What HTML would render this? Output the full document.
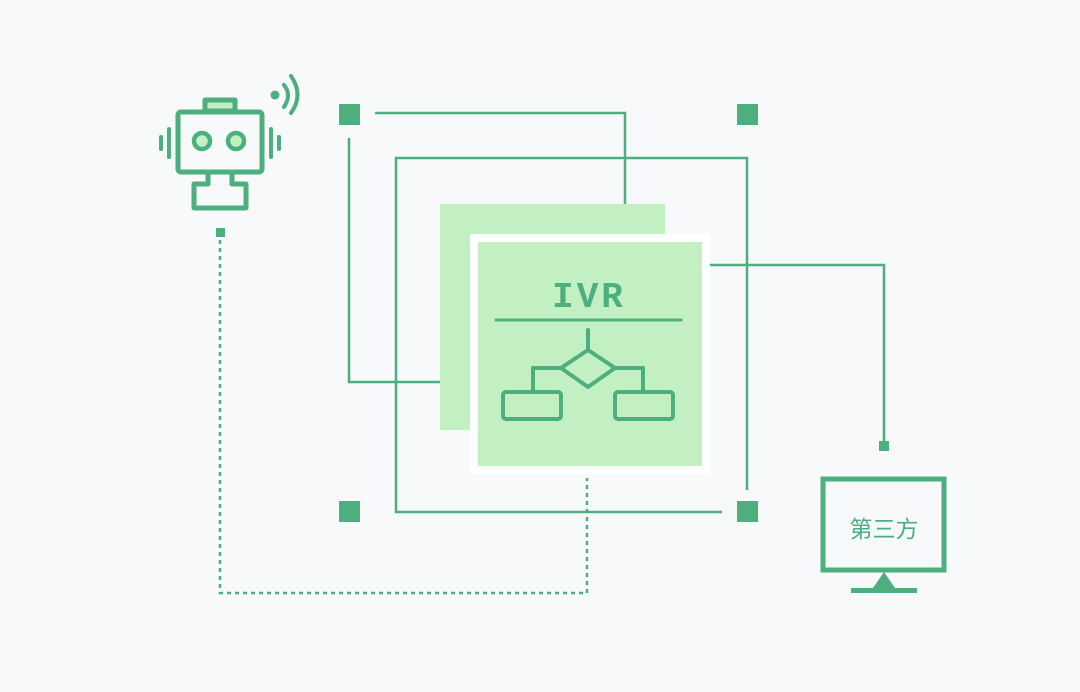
<!DOCTYPE html>
<html><head><meta charset="utf-8"><style>
html,body{margin:0;padding:0;background:#f8f9fb}
svg{display:block}
</style></head><body>
<svg width="1080" height="692" viewBox="0 0 1080 692" xmlns="http://www.w3.org/2000/svg">
<rect width="1080" height="692" fill="#f8f9fb"/>
<g fill="none" stroke="#4caf7d" stroke-width="2.5">
<polyline points="375,113 625,113 625,205"/>
<polyline points="349,138 349,382 440,382"/>
<polyline points="722,512 396,512 396,158 747,158 747,490"/>
<polyline points="710,265 884,265 884,442"/>
<polyline points="220,240 220,593 587,593 587,478" stroke-dasharray="4,4"/>
</g>
<g fill="#4caf7d">
<rect x="339" y="104" width="21" height="21"/>
<rect x="737" y="104" width="21" height="21"/>
<rect x="339" y="501" width="21" height="21"/>
<rect x="737" y="501" width="21" height="21"/>
<rect x="879" y="441" width="10" height="10"/>
<rect x="216" y="228" width="9" height="9"/>
</g>
<rect x="440" y="204" width="225" height="226" fill="#c3f0c3"/>
<rect x="470" y="234" width="240" height="240" fill="#ffffff"/>
<rect x="478" y="242" width="224" height="224" fill="#c3f0c3"/>
<text x="589" y="307" text-anchor="middle" font-family="'Liberation Mono',monospace" font-weight="bold" font-size="36" fill="#4caf7d" letter-spacing="3">IVR</text>
<g fill="none" stroke="#4caf7d" stroke-width="4" stroke-linejoin="round" stroke-linecap="round">
<line x1="496" y1="320" x2="681" y2="320" stroke-width="3"/>
<line x1="588" y1="330" x2="588" y2="350"/>
<polygon points="588,350 615,368 588,387 561,368"/>
<polyline points="561,368 533,368 533,392"/>
<polyline points="615,368 643,368 643,392"/>
<rect x="503" y="392" width="58" height="27" rx="3"/>
<rect x="615" y="392" width="58" height="27" rx="3"/>
</g>
<!-- monitor -->
<rect x="823" y="479" width="121" height="91" fill="#f8f9fb" stroke="#4caf7d" stroke-width="5"/>
<polygon points="884,572 873,588 895,588" fill="#4caf7d"/>
<rect x="851" y="588" width="66" height="5" fill="#4caf7d"/>
<text x="884" y="537" text-anchor="middle" font-family="'Liberation Sans','Noto Sans CJK SC',sans-serif" font-size="23" fill="#4caf7d">第三方</text>
<!-- robot -->
<g stroke="#4caf7d" stroke-width="5" fill="none" stroke-linecap="round" stroke-linejoin="round">
<rect x="205" y="100" width="30" height="11" fill="#c3f0c3"/>
<rect x="178" y="112" width="84" height="60" rx="3" fill="#f8f9fb"/>
<path d="M208,172 V184 H194 V208 H246 V184 H232 V172"/>
<circle cx="202" cy="141" r="8" fill="#c3f0c3" stroke-width="4.5"/>
<circle cx="236" cy="141" r="8" fill="#c3f0c3" stroke-width="4.5"/>
<line x1="161" y1="137" x2="161" y2="149" stroke-width="4"/>
<line x1="169" y1="129" x2="169" y2="157" stroke-width="4"/>
<line x1="271" y1="129" x2="271" y2="157" stroke-width="4"/>
<line x1="279" y1="137" x2="279" y2="149" stroke-width="4"/>
<path d="M284,85 Q292,95 284,107" stroke-width="4"/>
<path d="M291,76 Q304,95 291,113" stroke-width="4"/>
</g>
<circle cx="275" cy="95" r="4.5" fill="#4caf7d"/>
</svg>
</body></html>
